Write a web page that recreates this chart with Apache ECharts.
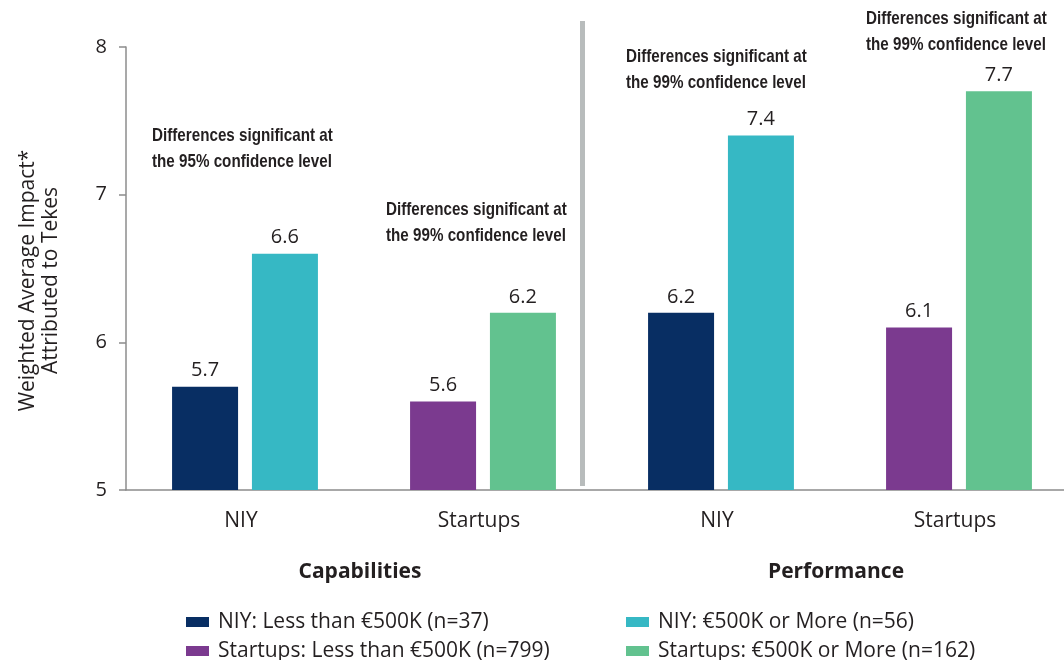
<!DOCTYPE html>
<html lang="en" style="height: 100%">
<head>
  <meta charset="utf-8">
</head>
<body style="height: 100%; margin: 0; background: #fff">
  <div id="container" style="width: 1064px; height: 660px"></div>

  <script type="text/javascript" src="https://cdn.jsdelivr.net/npm/echarts@6/dist/echarts.min.js"></script>

  <script type="text/javascript">
    // categories on the x axis (two groups of two)
    var categories = ['NIY', 'Startups', 'NIY', 'Startups'];
    var groups = ['Capabilities', 'Performance'];
    var yTicks = [5, 6, 7, 8];

    // series values (null where a series has no bar in that category)
    var niyLess = [5.7, null, 6.2, null];
    var startupsLess = [null, 5.6, null, 6.1];
    var niyMore = [6.6, null, 7.4, null];
    var startupsMore = [null, 6.2, null, 7.7];

    var seriesNames = [
      'NIY: Less than €500K (n=37)',
      'Startups: Less than €500K (n=799)',
      'NIY: €500K or More (n=56)',
      'Startups: €500K or More (n=162)'
    ];

    var notes = [
      'Differences significant at\nthe 95% confidence level',
      'Differences significant at\nthe 99% confidence level',
      'Differences significant at\nthe 99% confidence level',
      'Differences significant at\nthe 99% confidence level'
    ];

    var font = '"Open Sans"';

    var dom = document.getElementById('container');
    var myChart = echarts.init(dom, null, { renderer: 'canvas' });

    function barSeries(name, data, stack, color) {
      return {
        name: name,
        type: 'bar',
        stack: stack,
        data: data,
        barWidth: 66,
        barGap: '21%',
        itemStyle: { color: color },
        label: {
          show: true,
          position: 'top',
          distance: 6,
          color: '#231f20',
          fontSize: 20,
          fontFamily: font
        }
      };
    }

    // condensed bold note, squeezed horizontally
    function noteText(i, x, y) {
      return {
        type: 'text',
        x: x,
        y: y,
        scaleX: 0.8,
        style: {
          text: notes[i],
          font: 'bold 19px "Liberation Sans", Arial, sans-serif',
          fill: '#231f20',
          lineHeight: 26
        }
      };
    }

    var legendText = { color: '#231f20', fontSize: 21, fontFamily: font, lineHeight: 22, padding: [0, 0, 0, 4] };

    var option = {
      animation: false,
      backgroundColor: '#fff',
      grid: { left: 126, top: 47, width: 952, height: 443, outerBoundsMode: 'none', containLabel: false },
      legend: [
        {
          orient: 'vertical',
          left: 181,
          top: 606,
          height: 80,
          itemWidth: 23,
          itemHeight: 10,
          itemGap: 7,
          icon: 'rect',
          textStyle: legendText,
          data: [seriesNames[0], seriesNames[1]]
        },
        {
          orient: 'vertical',
          left: 621,
          top: 606,
          height: 80,
          itemWidth: 23,
          itemHeight: 10,
          itemGap: 7,
          icon: 'rect',
          textStyle: legendText,
          data: [seriesNames[2], seriesNames[3]]
        }
      ],
      xAxis: [
        {
          type: 'category',
          data: categories,
          axisLine: { lineStyle: { color: '#8c8c8c', width: 1.5 } },
          axisTick: { show: false },
          axisLabel: { margin: 21, color: '#231f20', fontSize: 21, fontFamily: font, padding: [0, 8, 0, 0] }
        },
        {
          type: 'category',
          data: groups,
          position: 'bottom',
          axisLine: { show: false },
          axisTick: { show: false },
          axisLabel: { margin: 72, color: '#231f20', fontSize: 21, fontWeight: 'bold', fontFamily: font, padding: [0, 8, 0, 0] }
        }
      ],
      yAxis: {
        type: 'value',
        min: yTicks[0],
        max: yTicks[yTicks.length - 1],
        interval: 1,
        name: 'Weighted Average Impact*\nAttributed to Tekes',
        nameLocation: 'middle',
        nameGap: 63,
        nameTextStyle: { color: '#231f20', fontSize: 21, fontFamily: font, lineHeight: 23, padding: [0, 24, 0, 0] },
        axisLine: { show: true, lineStyle: { color: '#8c8c8c', width: 1.5 } },
        axisTick: { show: true, length: 7, lineStyle: { color: '#8c8c8c', width: 1.5 } },
        axisLabel: { margin: 19, color: '#231f20', fontSize: 20, fontFamily: font },
        splitLine: { show: false }
      },
      graphic: [
        {
          type: 'rect',
          shape: { x: 580, y: 21, width: 5, height: 465 },
          style: { fill: '#b8bcbc' }
        },
        noteText(0, 152, 123),
        noteText(1, 386, 197),
        noteText(2, 626, 44),
        noteText(3, 866, 6)
      ],
      series: [
        barSeries(seriesNames[0], niyLess, 'less', '#082e63'),
        barSeries(seriesNames[1], startupsLess, 'less', '#7b3a8f'),
        barSeries(seriesNames[2], niyMore, 'more', '#36b8c4'),
        barSeries(seriesNames[3], startupsMore, 'more', '#62c28f')
      ]
    };

    myChart.setOption(option);
    window.addEventListener('resize', myChart.resize);
  </script>
</body>
</html>
